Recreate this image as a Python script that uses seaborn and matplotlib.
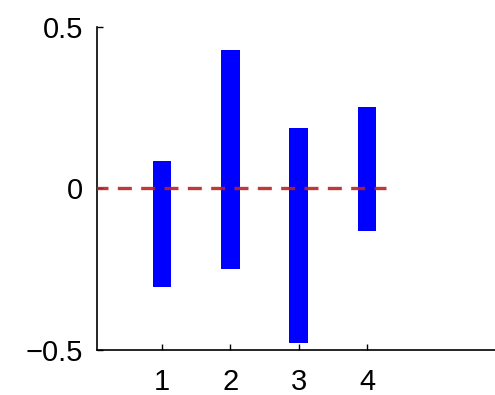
import matplotlib
matplotlib.use("Agg")
import matplotlib.pyplot as plt
import seaborn as sns
import pandas as pd

# Floating bars: each group spans from its low to its high value
groups = [1, 2, 3, 4]
lows = [-0.304, -0.249, -0.477, -0.131]
highs = [0.086, 0.427, 0.186, 0.253]
yticks = [-0.5, 0, 0.5]
ytick_labels = ["\u22120.5", "0", "0.5"]

sns.set_style("white")
plt.rcParams["font.family"] = ["Liberation Sans", "DejaVu Sans"]

df = pd.DataFrame({
    "group": groups,
    "low": lows,
    "span": [h - l for h, l in zip(highs, lows)],
})

fig = plt.figure(figsize=(4.95, 3.95), dpi=100)
ax = fig.add_axes([0.196, 0.114, 0.804, 0.818])

sns.barplot(data=df, x="group", y="span", bottom=df["low"], native_scale=True,
            orient="x", width=0.27, color="#0000ff", saturation=1,
            edgecolor="none", linewidth=0, ax=ax, zorder=2)

# Zero reference line
ax.plot([0.0, 4.28], [0, 0], color="#bb2222", linestyle=(0, (4.2, 2.8)),
        linewidth=2.4, zorder=3, alpha=0.9)

ax.set_xlim(0.048, 5.875)
ax.set_ylim(-0.5, 0.5)
ax.set_xticks(groups)
ax.set_xticklabels([str(g) for g in groups])
ax.set_yticks(yticks)
ax.set_yticklabels(ytick_labels)
ax.set_xlabel("")
ax.set_ylabel("")

for side in ("top", "right"):
    ax.spines[side].set_visible(False)
for side in ("left", "bottom"):
    ax.spines[side].set_color("black")
    ax.spines[side].set_linewidth(1.2)

ax.tick_params(axis="x", direction="in", length=4, width=1, pad=13,
               labelsize=21, colors="black", bottom=True)
ax.tick_params(axis="y", direction="in", length=4, width=1, pad=10,
               labelsize=21, colors="black", left=True)

fig.savefig("out.png", dpi=100)
